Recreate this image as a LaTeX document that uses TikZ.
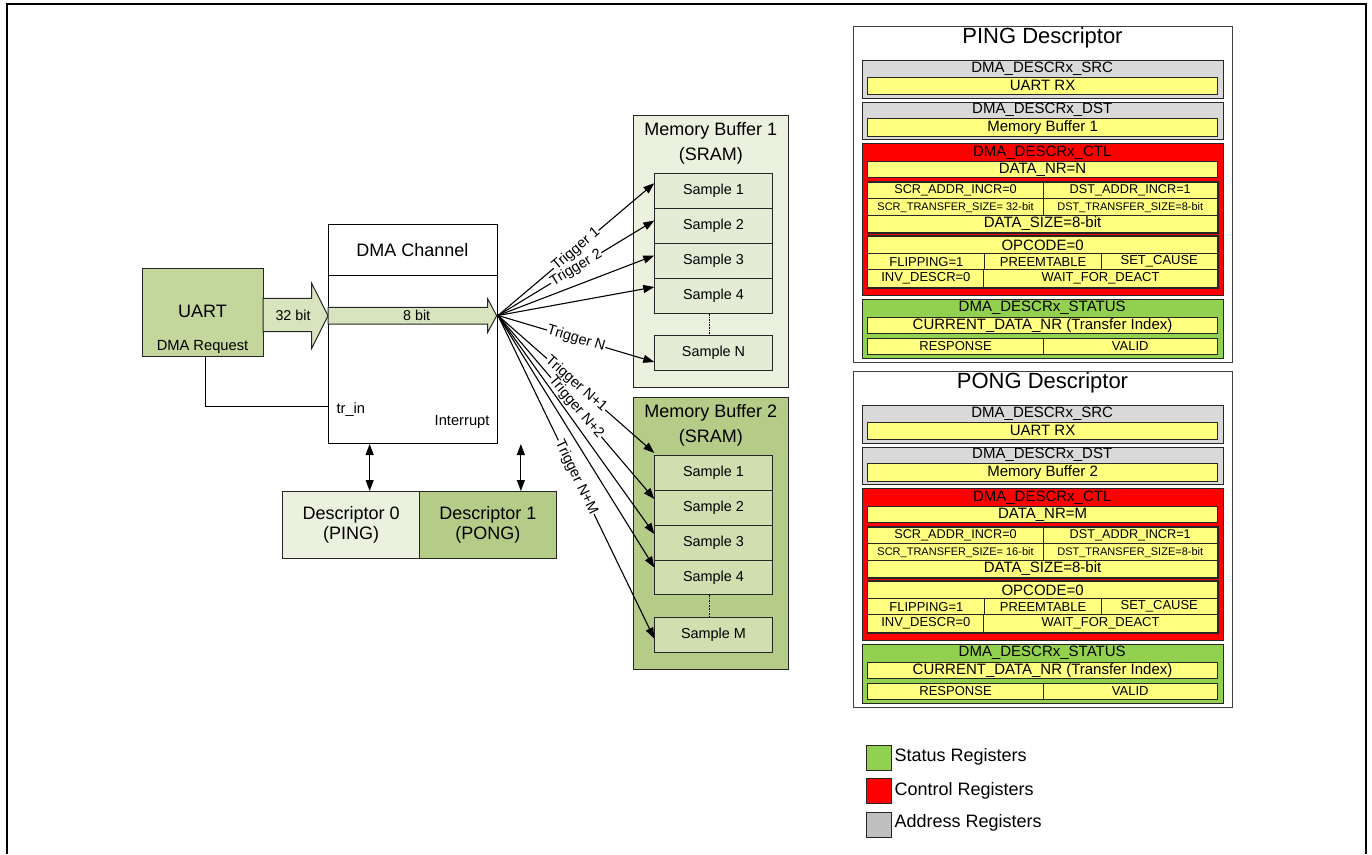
\documentclass[tikz,border=0pt]{standalone}
\usepackage{fontspec}
\setmainfont{Liberation Sans}
\usetikzlibrary{arrows.meta}

\definecolor{uartc}{HTML}{C3D69B}
\definecolor{arrc}{HTML}{D7E4BD}
\definecolor{paleg}{HTML}{EBF1DE}
\definecolor{oliv}{HTML}{B5CB88}
\definecolor{smpa}{HTML}{E5ECD5}
\definecolor{smpb}{HTML}{D0DEB0}
\definecolor{regy}{HTML}{FFFF80}
\definecolor{regg}{HTML}{D9D9D9}
\definecolor{regr}{HTML}{FF0000}
\definecolor{regs}{HTML}{92D050}
\definecolor{lgrey}{HTML}{C0C0C0}
\definecolor{edge}{HTML}{262626}

% register cell: name, x1, y1, x2, y2, options, text
\newcommand\rcell[7]{\node[cell,#6,minimum width={#4pt-#2pt},minimum height={#5pt-#3pt}] (#1) at (#2,#3) {#7};}

\tikzset{
  fs/.style={font=\fontsize{#1}{#1}\selectfont},
  cell/.style={draw=edge, line width=1.1pt, inner sep=0pt, anchor=north west},
  blk/.style={draw=edge, line width=1pt, inner sep=0pt, anchor=north west},
  trig/.style={line width=1.1pt, -{Triangle[length=11pt,width=8pt]}},
  tlab/.style={midway, sloped, fill=white, inner sep=0.5pt, fs=14.5},
  dbl/.style={line width=1.1pt, {Triangle[length=11pt,width=8pt]}-{Triangle[length=11pt,width=8pt]}},
  bus/.style={draw=edge, line width=1pt, fill=arrc},
}

\begin{document}
\begin{tikzpicture}[x=1pt,y=-1pt]
\useasboundingbox (0,0) rectangle (1372,854);

% outer frame (open at the bottom)
\draw[line width=2.5pt] (7,854) -- (7,4) -- (1366,4) -- (1366,854);

% ---------- UART ----------
\node[blk, fill=uartc, minimum width=121pt, minimum height=88pt] (uart) at (142,268) {};
\node[fs=18] (uartt) at (202.5,311.7) {UART};
\node[fs=14.7] (uartr) at (202.5,346.7) {DMA Request};

% ---------- DMA channel ----------
\node[blk, draw=black, minimum width=169pt, minimum height=219pt] (dma) at (328,224) {};
\coordinate (hdrL) at (328,275);
\draw[line width=1pt] (hdrL) -- (hdrL -| dma.east);
\node[fs=18] (dmat) at (412.5,250) {DMA Channel};
\node[fs=14.7, anchor=west] (trin) at (333,410) {tr\_in};
\node[fs=14.7, anchor=east] (intr) at (493,421.7) {Interrupt};

% bus arrows
\draw[bus] (263,298.3) -- (311.7,298.3) -- (311.7,283.3) -- (328,315.8) -- (311.7,348.3) -- (311.7,331.7) -- (263,331.7) -- cycle;
\node[fs=14.3] (b32) at (293,315.7) {32 bit};
\draw[bus] (328,307.3) -- (487.7,307.3) -- (487.7,299) -- (496.7,315.7) -- (487.7,332.3) -- (487.7,324) -- (328,324) -- cycle;
\node[fs=14.3] (b8) at (416.7,315.7) {8 bit};

% trigger request line
\coordinate (trinpt) at (328,406.7);
\draw[line width=1.1pt] ([xshift=2.5pt]uart.south) |- (trinpt);

% ---------- descriptors ----------
\node[blk, fill=paleg, minimum width=136.7pt, minimum height=66.7pt, align=center, font=\fontsize{18}{20.5}\selectfont] (d0) at (282.3,491) {Descriptor 0\\(PING)};
\node[blk, fill=oliv, minimum width=136.7pt, minimum height=66.7pt, align=center, font=\fontsize{18}{20.5}\selectfont] (d1) at (419,491) {Descriptor 1\\(PONG)};
\draw[dbl] ([xshift=18.5pt]d0.north |- dma.south) -- ([xshift=18.5pt]d0.north);
\draw[dbl] ([xshift=33pt]d1.north |- dma.south) -- ([xshift=33pt]d1.north);

% ---------- memory buffer 1 ----------
\node[blk, fill=paleg, minimum width=155pt, minimum height=272.6pt] (mb1) at (633.3,114.7) {};
\node[align=center, font=\fontsize{18}{25}\selectfont] (mb1t) at (710.8,143.8) {Memory Buffer 1\\(SRAM)};
\node[blk, fill=smpa, minimum width=117.4pt, minimum height=35pt, fs=14.4] (a1) at (654.3,173) {Sample 1};
\node[blk, fill=smpa, minimum width=117.4pt, minimum height=35pt, fs=14.4] (a2) at (654.3,208) {Sample 2};
\node[blk, fill=smpa, minimum width=117.4pt, minimum height=35pt, fs=14.4] (a3) at (654.3,243) {Sample 3};
\node[blk, fill=smpa, minimum width=117.4pt, minimum height=35pt, fs=14.4] (a4) at (654.3,278) {Sample 4};
\node[blk, fill=smpa, minimum width=117.4pt, minimum height=35pt, fs=14.4] (aN) at (654.3,335) {Sample N};
\draw[line width=1.6pt, densely dotted] ([xshift=-4pt]a4.south) -- ([xshift=-4pt]aN.north);

% ---------- memory buffer 2 ----------
\node[blk, fill=oliv, minimum width=155pt, minimum height=272.6pt] (mb2) at (633.3,396.7) {};
\node[align=center, font=\fontsize{18}{25}\selectfont] (mb2t) at (710.8,425.8) {Memory Buffer 2\\(SRAM)};
\node[blk, fill=smpb, minimum width=117.4pt, minimum height=35pt, fs=14.4] (b1) at (654.3,455) {Sample 1};
\node[blk, fill=smpb, minimum width=117.4pt, minimum height=35pt, fs=14.4] (b2) at (654.3,490) {Sample 2};
\node[blk, fill=smpb, minimum width=117.4pt, minimum height=35pt, fs=14.4] (b3) at (654.3,525) {Sample 3};
\node[blk, fill=smpb, minimum width=117.4pt, minimum height=34pt, fs=14.4] (b4) at (654.3,560) {Sample 4};
\node[blk, fill=smpb, minimum width=117.4pt, minimum height=35pt, fs=14.4] (bM) at (654.3,616.7) {Sample M};
\draw[line width=1.6pt, densely dotted] ([xshift=-4pt]b4.south) -- ([xshift=-4pt]bM.north);

% ---------- trigger fan ----------
\coordinate (fan) at (498,315.5);
\draw[trig] (fan) -- node[tlab] {Trigger 1} ([yshift=7.8pt]a1.west);
\draw[trig] (fan) -- node[tlab] {Trigger 2} ([yshift=5.5pt]a2.west);
\draw[trig] (fan) -- ([yshift=5.5pt]a3.west);
\draw[trig] (fan) -- ([yshift=9pt]a4.west);
\draw[trig] (fan) -- node[tlab] {Trigger N} ([yshift=-9pt]aN.west);
\draw[trig] (fan) -- node[tlab] {Trigger N+1} ([yshift=2pt]b1.north west);
\draw[trig] (fan) -- node[tlab] {Trigger N+2} ([yshift=9pt]b2.west);
\draw[trig] (fan) -- ([yshift=9pt]b3.west);
\draw[trig] (fan) -- ([yshift=10pt]b4.west);
\draw[trig] (fan) -- node[tlab] {Trigger N+M} ([yshift=-4pt]bM.west);

% ---------- PING / PONG descriptor tables ----------
\foreach \p/\dy/\ttl/\buf/\nr/\ssz in {ping/0/PING/1/N/32,pong/345/PONG/2/M/16}{
\begin{scope}[yshift=-\dy pt]
  \rcell{\p}{853.3}{26}{1231.7}{361.7}{draw=black!75, line width=1pt}{}
  \node[fs=22] (\p-t) at (1042.5,38.3) {\ttl{} Descriptor};
  % source address
  \rcell{\p-src}{861.7}{60}{1222.7}{97.7}{fill=regg}{}
  \node[fs=15] (\p-srcl) at (1042.2,68.3) {DMA\_DESCRx\_SRC};
  \rcell{\p-srcv}{867.3}{76.7}{1216.7}{94}{fill=regy,fs=15}{UART RX}
  % destination address
  \rcell{\p-dst}{861.7}{102}{1222.7}{139.3}{fill=regg}{}
  \node[fs=15] (\p-dstl) at (1042.2,109.3) {DMA\_DESCRx\_DST};
  \rcell{\p-dstv}{867.3}{118.3}{1216.7}{136}{fill=regy,fs=15}{Memory Buffer \buf}
  % control
  \rcell{\p-ctl}{861.7}{143.3}{1222.7}{295}{fill=regr}{}
  \node[fs=15] (\p-ctll) at (1042.2,152.3) {DMA\_DESCRx\_CTL};
  \rcell{\p-nr}{867.3}{160.7}{1216.7}{177.3}{fill=regy,fs=15}{DATA\_NR=\nr}
  \rcell{\p-sai}{867.3}{181.7}{1042.7}{198.3}{fill=regy,fs=12.7}{SCR\_ADDR\_INCR=0}
  \rcell{\p-dai}{1042.7}{181.7}{1216.7}{198.3}{fill=regy,fs=12.7}{DST\_ADDR\_INCR=1}
  \rcell{\p-sts}{867.3}{198.3}{1042.7}{215}{fill=regy,fs=11}{SCR\_TRANSFER\_SIZE= \ssz-bit}
  \rcell{\p-dts}{1042.7}{198.3}{1216.7}{215}{fill=regy,fs=11}{DST\_TRANSFER\_SIZE=8-bit}
  \rcell{\p-dsz}{867.3}{215}{1216.7}{231.7}{fill=regy,fs=15}{DATA\_SIZE=8-bit}
  \draw[draw=edge, line width=1.6pt] (\p-sai.north west) rectangle (\p-dsz.south east);
  \rcell{\p-opc}{867.3}{236}{1216.7}{252.7}{fill=regy,fs=15}{OPCODE=0}
  \rcell{\p-flp}{867.3}{252.7}{984.3}{269.3}{fill=regy,fs=13}{FLIPPING=1}
  \rcell{\p-pre}{984.3}{252.7}{1100.7}{269.3}{fill=regy,fs=13}{PREEMTABLE}
  \rcell{\p-set}{1100.7}{252.7}{1216.7}{269.3}{fill=regy,fs=13}{SET\_CAUSE}
  \rcell{\p-inv}{867.3}{269.3}{983.3}{286.7}{fill=regy,fs=13}{INV\_DESCR=0}
  \rcell{\p-wfd}{983.3}{269.3}{1216.7}{286.7}{fill=regy,fs=13}{WAIT\_FOR\_DEACT}
  \draw[draw=edge, line width=1.6pt] (\p-opc.north west) rectangle (\p-wfd.south east);
  % status
  \rcell{\p-sta}{861.7}{299.3}{1222.7}{358.3}{fill=regs}{}
  \node[fs=15] (\p-stal) at (1042.2,307.7) {DMA\_DESCRx\_STATUS};
  \rcell{\p-cur}{867.3}{316.7}{1216.7}{333.3}{fill=regy,fs=15}{CURRENT\_DATA\_NR (Transfer Index)}
  \rcell{\p-rsp}{867.3}{337.7}{1042.7}{354}{fill=regy,fs=13}{RESPONSE}
  \rcell{\p-vld}{1042.7}{337.7}{1216.7}{354}{fill=regy,fs=13}{VALID}
\end{scope}}

% ---------- legend ----------
\rcell{lg1}{865.7}{745}{890.7}{770}{fill=regs}{}
\rcell{lg2}{865.7}{778.3}{890.7}{803.3}{fill=regr}{}
\rcell{lg3}{865.7}{811.7}{890.7}{836.7}{fill=lgrey}{}
\node[fs=18, anchor=west, inner sep=0pt] (lt1) at (894.3,756.7) {Status Registers};
\node[fs=18, anchor=west, inner sep=0pt] (lt2) at (894.3,790.7) {Control Registers};
\node[fs=18, anchor=west, inner sep=0pt] (lt3) at (894.3,823.3) {Address Registers};
\end{tikzpicture}
\end{document}
